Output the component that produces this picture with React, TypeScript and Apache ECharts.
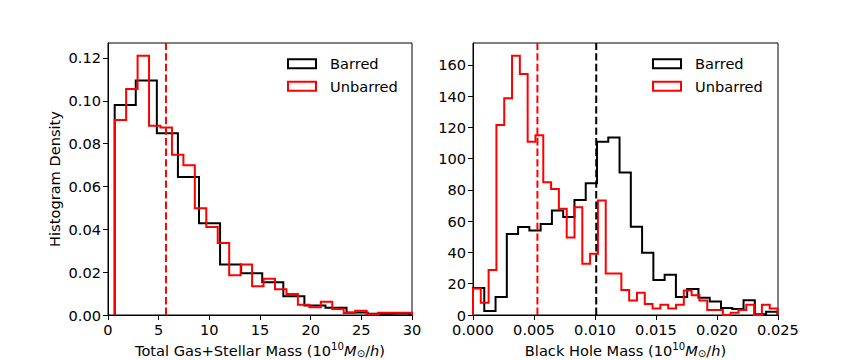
import React, { useEffect, useRef } from "react";
import * as echarts from "echarts";

// ---------- Left panel: Total Gas+Stellar Mass histograms (density) ----------
const massBinStart = 0.66;
const massBarredBinWidth = 2.08;
const massUnbarredBinWidth = 1.13;
const massBarred = [0.0981, 0.1095, 0.0849, 0.0644, 0.0428, 0.0236, 0.0195, 0.0153, 0.0087, 0.0044, 0.0034, 0.0012, 0.0006, 0.0008];
const massUnbarred = [0.0911, 0.1055, 0.1211, 0.0884, 0.0875, 0.0748, 0.0699, 0.0498, 0.0411, 0.0336, 0.0186, 0.0236, 0.0134, 0.0169, 0.012, 0.0098, 0.0048, 0.0036, 0.0062, 0.0028, 0.0009, 0.002, 0.0003, 0.0011, 0.0011, 0.0011];
const massUnbarredMean = 5.72;
const massXMax = 30;
const massYMax = 0.127;
const massXTicks = [0, 5, 10, 15, 20, 25, 30];
const massYTicks = [0, 0.02, 0.04, 0.06, 0.08, 0.1, 0.12];

// ---------- Right panel: Black Hole Mass histograms (density) ----------
const bhBinStart = 0;
const bhBarredBinWidth = 0.000924;
const bhUnbarredBinWidth = 0.00064;
const bhBarred = [17.3, 2.6, 11.5, 51.8, 56.3, 54.0, 58.2, 66.8, 62.7, 73.6, 84.3, 110.9, 113.5, 91.1, 56.5, 39.9, 22.4, 25.8, 11.5, 16.6, 11.1, 8.7, 4.5, 3.8, 9.4, 0.4, 2.1];
const bhUnbarred = [16.9, 7.9, 28.8, 121.6, 138.7, 165.8, 154.2, 110.9, 115.0, 84.9, 80.6, 68.0, 49.5, 68.9, 32.8, 39.2, 73.2, 26.5, 26.5, 16.0, 9.2, 14.3, 7.0, 4.1, 6.6, 4.1, 6.6, 15.6, 12.7, 9.2, 3.2, 3.2, 0, 1.5, 3.2, 6.6, 0, 6.6, 4.1];
const bhBarredMean = 0.0101;
const bhUnbarredMean = 0.00528;
const bhXMax = 0.025;
const bhYMax = 174;
const bhXTicks = [0, 0.005, 0.01, 0.015, 0.02, 0.025];
const bhYTicks = [0, 20, 40, 60, 80, 100, 120, 140, 160];

const seriesNames = ["Barred", "Unbarred"];

// histogram step outline (matplotlib histtype="step")
function stepOutline(start: number, width: number, values: number[]) {
  const pts: number[][] = [[start, 0]];
  values.forEach((v, i) => {
    const x0 = start + i * width;
    pts.push([x0, v], [x0 + width, v]);
  });
  pts.push([start + values.length * width, 0]);
  return pts;
}

const FONT = "DejaVu Sans";
const FS = 14.6;
const BLACK = "#000000";
const RED = "#ff0000";

const richTitle = {
  n: { fontSize: FS, fontFamily: FONT, color: BLACK, lineHeight: 17 },
  sup: { fontSize: 10.2, fontFamily: FONT, color: BLACK, lineHeight: 10, verticalAlign: "top" },
  sub: { fontSize: 10.2, fontFamily: FONT, color: BLACK, lineHeight: 10, verticalAlign: "bottom" },
  it: { fontSize: FS, fontFamily: FONT, color: BLACK, fontStyle: "italic", lineHeight: 17 },
};

function xAxisCfg(gridIndex: number, max: number, ticks: number[], digits: number, name: string) {
  return {
    gridIndex,
    type: "value",
    min: 0,
    max,
    axisLine: { show: true, onZero: false, lineStyle: { color: BLACK, width: 1 } },
    axisTick: { show: true, length: 5, customValues: ticks, lineStyle: { color: BLACK, width: 1 } },
    axisLabel: {
      customValues: ticks,
      fontSize: FS,
      fontFamily: FONT,
      color: BLACK,
      margin: 7,
      formatter: (v: number) => v.toFixed(digits),
    },
    splitLine: { show: false },
    name,
    nameLocation: "middle",
    nameGap: 24.5,
    nameTextStyle: { fontSize: FS, fontFamily: FONT, color: BLACK, rich: richTitle },
  };
}

function yAxisCfg(gridIndex: number, max: number, ticks: number[], digits: number, name?: string) {
  const cfg: any = {
    gridIndex,
    type: "value",
    min: 0,
    max,
    axisLine: { show: true, onZero: false, lineStyle: { color: BLACK, width: 1 } },
    axisTick: { show: true, length: 5, customValues: ticks, lineStyle: { color: BLACK, width: 1 } },
    axisLabel: {
      customValues: ticks,
      fontSize: FS,
      fontFamily: FONT,
      color: BLACK,
      margin: 7,
      formatter: (v: number) => v.toFixed(digits),
    },
    splitLine: { show: false },
  };
  if (name) {
    cfg.name = name;
    cfg.nameLocation = "middle";
    cfg.nameGap = 46;
    cfg.nameTextStyle = { fontSize: FS, fontFamily: FONT, color: BLACK };
  }
  return cfg;
}

function legendCfg(left: number) {
  return {
    left,
    top: 55.2,
    padding: 0,
    orient: "vertical",
    itemWidth: 28,
    itemHeight: 9,
    itemGap: 5.5,
    selectedMode: false,
    textStyle: { fontSize: FS, fontFamily: FONT, color: BLACK, lineHeight: 17, padding: [0, 0, 0, 9] },
    data: [
      { name: seriesNames[0], icon: "rect", itemStyle: { color: "rgba(0,0,0,0)", borderColor: BLACK, borderWidth: 2 } },
      { name: seriesNames[1], icon: "rect", itemStyle: { color: "rgba(0,0,0,0)", borderColor: RED, borderWidth: 2 } },
    ],
  };
}

function histSeries(name: string, color: string, axisIndex: number, data: number[][], z: number) {
  return {
    name,
    type: "line",
    xAxisIndex: axisIndex,
    yAxisIndex: axisIndex,
    data,
    symbol: "none",
    showSymbol: false,
    clip: true,
    silent: true,
    lineStyle: { color, width: 2, join: "miter" },
    itemStyle: { color },
    z,
  };
}

// vertical dashed line marking a mean value, spanning the whole y range
function meanSeries(id: string, color: string, axisIndex: number, mean: number, yMax: number) {
  return {
    id,
    name: id,
    type: "line",
    xAxisIndex: axisIndex,
    yAxisIndex: axisIndex,
    data: [
      [mean, 0],
      [mean, yMax],
    ],
    symbol: "none",
    showSymbol: false,
    silent: true,
    lineStyle: { color, width: 2, type: [7.4, 3.2] },
    itemStyle: { color },
    z: 4,
  };
}

export default function App() {
  const ref = useRef<HTMLDivElement>(null);
  useEffect(() => {
    if (!ref.current) return;
    const chart = echarts.init(ref.current, undefined, { renderer: "svg" });
    const massTitle = "{n|Total Gas+Stellar Mass (10}{sup|10}{it|M}{sub|⊙}{n|/}{it|h}{n|)}";
    const bhTitle = "{n|Black Hole Mass (10}{sup|10}{it|M}{sub|⊙}{n|/}{it|h}{n|)}";
    chart.setOption({
      animation: false,
      backgroundColor: "#ffffff",
      textStyle: { fontFamily: FONT },
      grid: [
        { left: 108, top: 43, width: 304, height: 272, outerBoundsMode: "none", containLabel: false, show: true, borderColor: BLACK, borderWidth: 1, backgroundColor: "transparent" },
        { left: 473, top: 43, width: 305, height: 272, outerBoundsMode: "none", containLabel: false, show: true, borderColor: BLACK, borderWidth: 1, backgroundColor: "transparent" },
      ],
      xAxis: [
        xAxisCfg(0, massXMax, massXTicks, 0, massTitle),
        xAxisCfg(1, bhXMax, bhXTicks, 3, bhTitle),
      ],
      yAxis: [
        yAxisCfg(0, massYMax, massYTicks, 2, "Histogram Density"),
        yAxisCfg(1, bhYMax, bhYTicks, 0),
      ],
      legend: [legendCfg(287), legendCfg(652)],
      series: [
        histSeries(seriesNames[0], BLACK, 0, stepOutline(massBinStart, massBarredBinWidth, massBarred), 2),
        histSeries(seriesNames[1], RED, 0, stepOutline(massBinStart, massUnbarredBinWidth, massUnbarred), 3),
        meanSeries("massUnbarredMean", RED, 0, massUnbarredMean, massYMax),
        histSeries(seriesNames[0], BLACK, 1, stepOutline(bhBinStart, bhBarredBinWidth, bhBarred), 2),
        histSeries(seriesNames[1], RED, 1, stepOutline(bhBinStart, bhUnbarredBinWidth, bhUnbarred), 3),
        meanSeries("bhBarredMean", BLACK, 1, bhBarredMean, bhYMax),
        meanSeries("bhUnbarredMean", RED, 1, bhUnbarredMean, bhYMax),
      ],
    });
    return () => chart.dispose();
  }, []);
  return (
    <div
      ref={ref}
      style={{ position: "absolute", left: 0, top: 0, width: 864, height: 360 }}
    />
  );
}
